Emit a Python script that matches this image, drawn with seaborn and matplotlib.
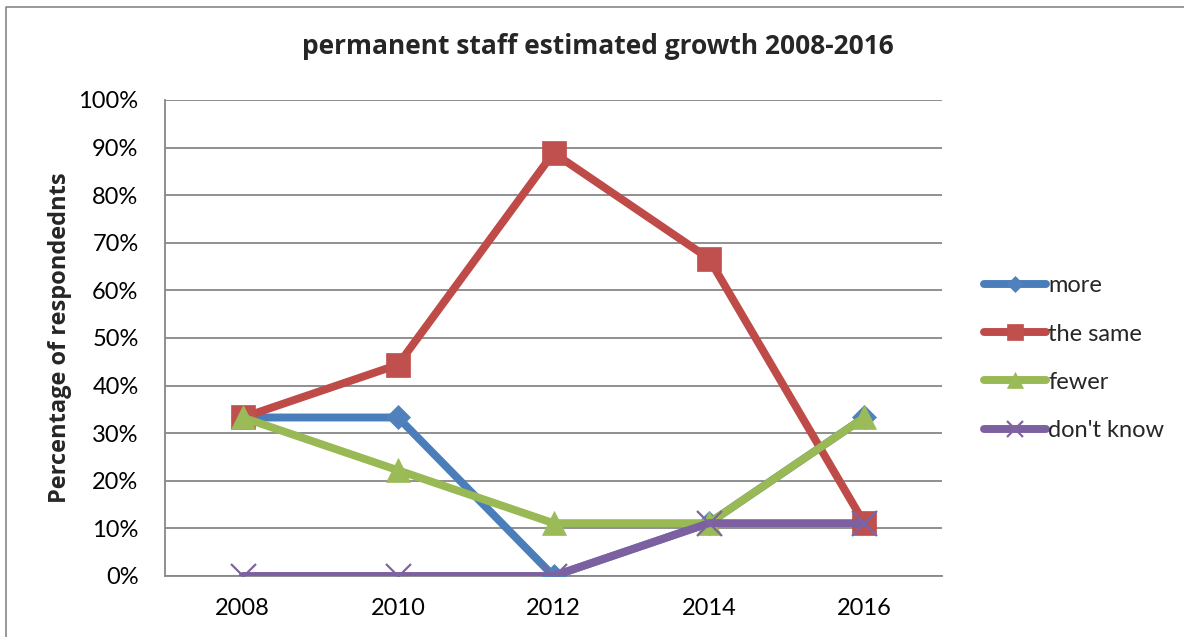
import matplotlib
matplotlib.use("Agg")
import matplotlib.pyplot as plt
import seaborn as sns
import pandas as pd
from matplotlib.lines import Line2D
from matplotlib.ticker import PercentFormatter

years = ["2008", "2010", "2012", "2014", "2016"]
series_names = ["more", "the same", "fewer", "don't know"]
more = [33.3, 33.3, 0.0, 11.1, 33.3]
the_same = [33.3, 44.4, 88.9, 66.7, 11.1]
fewer = [33.3, 22.2, 11.1, 11.1, 33.3]
dont_know = [0.0, 0.0, 0.0, 11.1, 11.1]
yticks = [0, 10, 20, 30, 40, 50, 60, 70, 80, 90, 100]

title = "permanent staff estimated growth 2008-2016"
ylabel = "Percentage of respondednts"

sns.set_theme(style="white")
plt.rcParams["font.family"] = ["Lato", "DejaVu Sans"]

W, H = 1184, 637
fig = plt.figure(figsize=(W / 100, H / 100), dpi=100)
ax = fig.add_axes([165 / W, 1 - 576 / H, (942 - 165) / W, (576 - 100) / H])

line_colors = ["#4A7EBB", "#BE4B48", "#98B954", "#7D60A0"]
marker_colors = ["#4F81BD", "#C0504D", "#9BBB59", "#8064A2"]
markers = ["D", "s", "^", "x"]
msizes = [12, 17, 17, 18]

df = pd.DataFrame({
    "year": years * 4,
    "value": more + the_same + fewer + dont_know,
    "series": sum([[n] * len(years) for n in series_names], []),
})

handles = []
for i, name in enumerate(series_names):
    sub = df[df["series"] == name]
    mk = markers[i]
    kw = dict(marker=mk, markersize=msizes[i], color=line_colors[i],
              linewidth=5.7, solid_capstyle="round", solid_joinstyle="round")
    if mk == "x":
        kw.update(markeredgecolor=marker_colors[i], markeredgewidth=1.6)
    else:
        kw.update(markerfacecolor=marker_colors[i], markeredgecolor=marker_colors[i],
                  markeredgewidth=0.5)
    sns.lineplot(data=sub, x="year", y="value", ax=ax, sort=False, legend=False,
                 zorder=3 + i, **kw)
    hkw = dict(kw)
    hkw["markersize"] = msizes[i] * 0.65
    handles.append(Line2D([0], [0], label=name, **hkw))

ax.set_xlim(-0.5, len(years) - 0.5)
ax.set_ylim(0, 100)
ax.set_yticks(yticks)
ax.yaxis.set_major_formatter(PercentFormatter(decimals=0))
ax.grid(axis="y", color="#878787", linewidth=1.3)
ax.grid(axis="x", visible=False)
ax.set_axisbelow(True)
for side in ["top", "right"]:
    ax.spines[side].set_visible(False)
for side in ["left", "bottom"]:
    ax.spines[side].set_color("#878787")
    ax.spines[side].set_linewidth(1.3)
ax.tick_params(axis="both", length=0, labelsize=17, colors="black")
ax.tick_params(axis="x", pad=16)
ax.tick_params(axis="y", pad=19)
ax.set_xlabel("")
ax.set_ylabel(ylabel, fontsize=17, fontweight="bold",
              family=["Open Sans", "DejaVu Sans"])
ax.yaxis.set_label_coords((72 - 165) / (942 - 165), 0.5)

fig.text(598 / W, 1 - 47 / H, title, ha="center", va="center",
         fontsize=19, fontweight="bold", family=["Open Sans", "DejaVu Sans"])

fig.legend(handles=handles, loc="upper left", bbox_to_anchor=(975 / W, 1 - 266 / H),
           frameon=False, fontsize=17, handlelength=2.6, handletextpad=0.1,
           labelspacing=1.15, borderaxespad=0)

# outer chart frame
fig.add_artist(Line2D([6 / W, 6 / W, 1.0], [0.0, 1 - 7 / H, 1 - 7 / H],
                      transform=fig.transFigure, color="#868686", linewidth=1.2))

fig.savefig("out.png", dpi=100)
